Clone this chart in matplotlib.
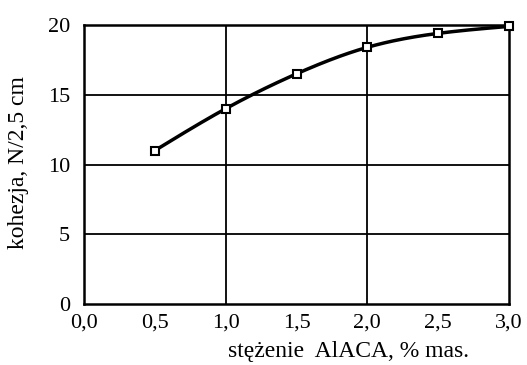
import numpy as np
import matplotlib
matplotlib.use("Agg")
import matplotlib.pyplot as plt

x_vals = [0.5, 1.0, 1.5, 2.0, 2.5, 3.0]
y_vals = [11.0, 14.0, 16.5, 18.4, 19.4, 19.9]
x_ticks = [0.0, 0.5, 1.0, 1.5, 2.0, 2.5, 3.0]
x_tick_labels = ["0,0", "0,5", "1,0", "1,5", "2,0", "2,5", "3,0"]
y_ticks = [0, 5, 10, 15, 20]

def natural_spline(x, y, xs):
    x = np.asarray(x, float); y = np.asarray(y, float)
    n = len(x); h = np.diff(x)
    A = np.zeros((n, n)); b = np.zeros(n)
    A[0, 0] = A[-1, -1] = 1
    for i in range(1, n - 1):
        A[i, i - 1] = h[i - 1]; A[i, i] = 2 * (h[i - 1] + h[i]); A[i, i + 1] = h[i]
        b[i] = 3 * ((y[i + 1] - y[i]) / h[i] - (y[i] - y[i - 1]) / h[i - 1])
    c = np.linalg.solve(A, b)
    out = []
    for t in xs:
        i = min(max(np.searchsorted(x, t) - 1, 0), n - 2)
        d = t - x[i]
        bb = (y[i + 1] - y[i]) / h[i] - h[i] * (2 * c[i] + c[i + 1]) / 3
        dd = (c[i + 1] - c[i]) / (3 * h[i])
        out.append(y[i] + bb * d + c[i] * d * d + dd * d ** 3)
    return np.array(out)

plt.rcParams['font.family'] = ['Liberation Serif', 'DejaVu Serif']
fig = plt.figure(figsize=(5.27, 3.65), dpi=100)
ax = fig.add_axes([84 / 527, 1 - 304 / 365, (509 - 84) / 527, (304 - 25) / 365])

xs = np.linspace(x_vals[0], x_vals[-1], 200)
ax.plot(xs, natural_spline(x_vals, y_vals, xs), color='black', lw=2.5, zorder=3)
ax.plot(x_vals, y_vals, linestyle='none', marker='s', markersize=6, markerfacecolor='white',
        markeredgecolor='black', markeredgewidth=1.5, zorder=4, clip_on=False)

ax.set_xlim(0, 3.0)
ax.set_ylim(0, 20)
ax.set_xticks(x_ticks)
ax.set_xticklabels(x_tick_labels)
ax.set_yticks(y_ticks)
ax.tick_params(length=0, labelsize=16)
ax.tick_params(axis='y', pad=10)
ax.tick_params(axis='x', pad=7)
for v in [1.0, 2.0]:
    ax.axvline(v, color='black', lw=1.3, zorder=1)
for v in [5, 10, 15]:
    ax.axhline(v, color='black', lw=1.3, zorder=1)
for s in ax.spines.values():
    s.set_linewidth(1.8)

fig.text(19 / 527, 1 - 163 / 365, "kohezja, N/2,5 cm", fontsize=17, rotation=90,
         ha='center', va='center')
fig.text(349 / 527, 1 - 352 / 365, "stężenie  AlACA, % mas.", fontsize=17, ha='center', va='center')

fig.savefig("out.png", dpi=100)
